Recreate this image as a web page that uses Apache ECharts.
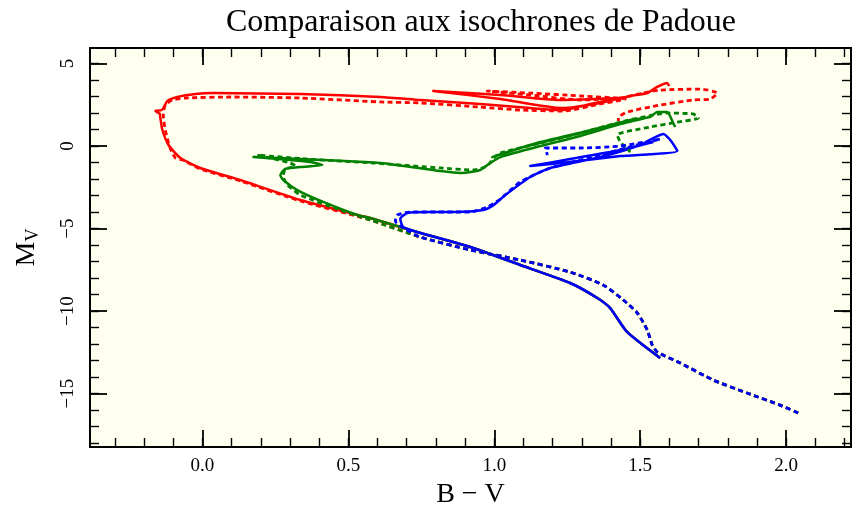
<!DOCTYPE html>
<html>
<head>
<meta charset="utf-8">
<script src="https://cdn.jsdelivr.net/npm/echarts@6/dist/echarts.min.js"></script>
<style>html,body{margin:0;padding:0;background:#fff;}#c{width:853px;height:515px;}</style>
</head>
<body>
<div id="c"></div>
<script>
// ---- data (B-V, M_V) ----
const titleText = 'Comparaison aux isochrones de Padoue';
const xName = 'B − V';
const xMajor = [0, 0.5, 1.0, 1.5, 2.0];
const yMajor = [5, 0, -5, -10, -15];

// lower main sequence, shared by the three solid isochrones
const msSolid = [[1.568,-12.85],[1.455,-11.27],[1.397,-9.82],[1.353,-9.21],[1.260,-8.30],[1.089,-7.21],[0.918,-6.12],[0.747,-5.27]];
// lower main sequence, shared by the three dotted isochrones
const msDotted = [[2.041,-16.18],[1.979,-15.70],[1.866,-14.97],[1.750,-14.18],[1.637,-13.15],[1.558,-12.48],[1.541,-12.06],[1.524,-11.15],[1.490,-10.12],[1.442,-9.33],[1.373,-8.42],[1.260,-7.64],[1.089,-6.91],[0.918,-6.30],[0.747,-5.52]];

const redSolidUpper = [[0.575,-4.36],[0.531,-4.18],[0.336,-3.27],[0.130,-2.06],[0.096,-1.88],[-0.007,-1.33],[-0.075,-0.73],[-0.116,0.06],[-0.137,0.97],[-0.144,1.70],[-0.146,1.95],[-0.161,2.12],[-0.140,2.18],[-0.132,2.35],[-0.120,2.73],[-0.086,2.97],[-0.024,3.15],[0.038,3.21],[0.336,3.15],[0.610,2.97],[0.747,2.79],[0.952,2.55],[1.123,2.30],[1.236,2.18],[1.329,2.55],[1.432,2.91],[1.226,2.79],[1.021,3.09],[0.791,3.33],[1.021,2.85],[1.233,2.30],[1.363,2.61],[1.466,3.03],[1.524,3.21],[1.558,3.58],[1.592,3.82],[1.599,3.64]];
const redDottedUpper = [[0.575,-4.48],[0.336,-3.33],[0.130,-2.12],[-0.007,-1.39],[-0.068,-0.85],[-0.092,-0.73],[-0.110,-0.15],[-0.127,0.97],[-0.134,1.88],[-0.127,2.48],[-0.103,2.79],[-0.058,2.91],[0.096,2.97],[0.336,2.91],[0.610,2.67],[0.747,2.61],[0.952,2.36],[1.089,2.18],[1.236,2.12],[1.363,2.55],[1.449,2.85],[1.295,3.03],[1.123,3.21],[0.976,3.33],[1.123,3.09],[1.295,2.79],[1.432,2.91],[1.510,3.21],[1.568,3.39],[1.705,3.45],[1.764,3.21],[1.740,2.85],[1.682,2.79],[1.568,2.48],[1.455,2.06],[1.425,1.70],[1.425,1.52]];

const greenSolidUpper = [[0.575,-4.36],[0.531,-4.18],[0.414,-3.39],[0.325,-2.67],[0.277,-2.06],[0.267,-1.76],[0.284,-1.39],[0.336,-1.27],[0.411,-1.15],[0.370,-0.97],[0.301,-0.85],[0.175,-0.67],[0.336,-0.79],[0.610,-1.03],[0.815,-1.52],[0.884,-1.64],[0.952,-1.45],[0.986,-1.03],[1.021,-0.67],[1.158,0.00],[1.295,0.61],[1.432,1.33],[1.517,1.70],[1.363,1.09],[1.158,0.24],[0.993,-0.67],[1.089,-0.12],[1.295,0.79],[1.466,1.58],[1.534,1.76],[1.558,2.06],[1.592,2.06],[1.613,1.39],[1.620,1.15]];
const greenDottedUpper = [[0.575,-4.48],[0.473,-3.88],[0.336,-2.97],[0.291,-2.36],[0.277,-1.82],[0.284,-1.39],[0.318,-1.21],[0.301,-1.03],[0.233,-0.73],[0.188,-0.55],[0.360,-0.79],[0.586,-1.03],[0.815,-1.33],[0.928,-1.45],[0.976,-1.21],[0.997,-0.73],[1.021,-0.42],[1.158,0.18],[1.295,0.79],[1.432,1.45],[1.545,1.88],[1.592,2.00],[1.682,1.94],[1.699,1.70],[1.627,1.45],[1.534,1.15],[1.421,0.67],[1.432,0.24],[1.466,-0.36]];

const blueSolidUpper = [[0.688,-4.91],[0.678,-4.42],[0.702,-4.06],[0.781,-4.00],[0.860,-4.00],[0.962,-3.88],[0.997,-3.58],[1.038,-2.97],[1.123,-1.88],[1.192,-1.33],[1.363,-0.67],[1.500,0.06],[1.579,0.73],[1.603,0.36],[1.627,-0.30],[1.432,-0.61],[1.260,-0.97],[1.123,-1.21],[1.260,-0.79],[1.432,-0.24],[1.545,0.24]];
const blueDottedUpper = [[0.695,-5.03],[0.661,-4.55],[0.668,-4.18],[0.712,-4.00],[0.918,-4.00],[0.976,-3.70],[1.021,-3.21],[1.089,-2.18],[1.192,-1.33],[1.363,-0.55],[1.500,0.12],[1.568,0.42],[1.432,0.00],[1.295,-0.12],[1.175,-0.12],[1.182,-0.55]];

// ---- chart ----
const XMIN = -0.385, XMAX = 2.222, YMIN = -18.24, YMAX = 5.94;
const xMinor = []; for (let i = -3; i <= 22; i++) xMinor.push(i / 10);
const yMinor = []; for (let i = -18; i <= 5; i++) yMinor.push(i);
const FONT = 'Liberation Serif';

function xAx(pos, major, labels) {
  return {
    type: 'value', min: XMIN, max: XMAX, position: pos, gridIndex: 0,
    axisLine: { show: false, onZero: false }, splitLine: { show: false },
    axisTick: { show: true, inside: true, length: major ? 17 : 9, customValues: major ? xMajor : xMinor,
      lineStyle: { color: '#000', width: major ? 1.8 : 1.4 } },
    axisLabel: labels ? { show: true, customValues: xMajor, formatter: v => v.toFixed(1),
      fontFamily: FONT, fontSize: 19, color: '#000', margin: 10 } : { show: false },
    name: labels ? xName : '', nameLocation: 'middle', nameGap: 34,
    nameTextStyle: { fontFamily: FONT, fontSize: 28, color: '#000' }
  };
}
function yAx(pos, major, labels) {
  return {
    type: 'value', min: YMIN, max: YMAX, position: pos, gridIndex: 0,
    axisLine: { show: false, onZero: false }, splitLine: { show: false },
    axisTick: { show: true, inside: true, length: major ? 17 : 9, customValues: major ? yMajor : yMinor,
      lineStyle: { color: '#000', width: major ? 1.8 : 1.4 } },
    axisLabel: labels ? { show: true, customValues: yMajor, rotate: 90,
      formatter: v => String(v).replace('-', '−'),
      fontFamily: FONT, fontSize: 19, color: '#000', margin: 12 } : { show: false },
    name: labels ? '{m|M}{s|V}' : '', nameLocation: 'middle', nameGap: 48, nameRotate: 90,
    nameTextStyle: { color: '#000', rich: {
      m: { fontFamily: FONT, fontSize: 28, color: '#000', lineHeight: 30 },
      s: { fontFamily: FONT, fontSize: 18, color: '#000', verticalAlign: 'bottom', lineHeight: 30 } } }
  };
}
function ser(name, data, color, dotted) {
  return { name, type: 'line', xAxisIndex: 0, yAxisIndex: 0, data, showSymbol: false, symbol: 'none',
    smooth: 0.2, silent: true, animation: false,
    lineStyle: { color, width: dotted ? 2.8 : 2.5, type: dotted ? [5, 3.5] : 'solid', cap: 'butt', join: 'round' } };
}

const chart = echarts.init(document.getElementById('c'), null, { renderer: 'canvas' });
chart.setOption({
  animation: false,
  backgroundColor: '#ffffff',
  title: { text: titleText, left: 476, top: 2, textAlign: 'center',
    textStyle: { fontFamily: FONT, fontSize: 32, fontWeight: 'normal', color: '#000' } },
  grid: { left: 90, right: 2, top: 48, bottom: 68, show: true, backgroundColor: '#fffff0',
    borderColor: '#000', borderWidth: 2, containLabel: false },
  xAxis: [xAx('bottom', true, true), xAx('bottom', false, false), xAx('top', true, false), xAx('top', false, false)],
  yAxis: [yAx('left', true, true), yAx('left', false, false), yAx('right', true, false), yAx('right', false, false)],
  series: [
    ser('red', msSolid.concat(redSolidUpper), '#ff0000', false),
    ser('green', msSolid.concat(greenSolidUpper), '#008000', false),
    ser('blue', msSolid.concat(blueSolidUpper), '#0000ff', false),
    ser('red dotted', msDotted.concat(redDottedUpper), '#ff0000', true),
    ser('green dotted', msDotted.concat(greenDottedUpper), '#008000', true),
    ser('blue dotted', msDotted.concat(blueDottedUpper), '#0000ff', true)
  ]
});
</script>
</body>
</html>
